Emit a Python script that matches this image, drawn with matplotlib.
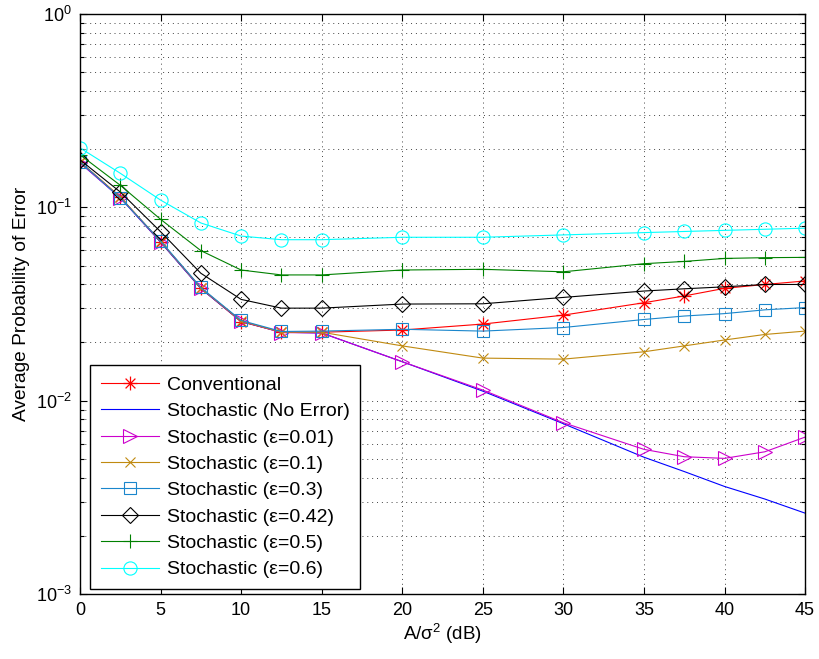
import matplotlib
matplotlib.use("Agg")
import matplotlib.pyplot as plt
import numpy as np
from matplotlib.path import Path
from matplotlib.ticker import LogLocator, NullFormatter, MultipleLocator

plt.rcParams['font.family'] = ['Liberation Sans', 'DejaVu Sans']
plt.rcParams['mathtext.default'] = 'regular'

# SNR points (dB)
snr = np.array([0, 2.5, 5, 7.5, 10, 12.5, 15, 20, 25, 30, 35, 37.5, 40, 42.5, 45])

conventional = [0.172, 0.113, 0.0664, 0.0381, 0.0256, 0.0226, 0.0226, 0.0232, 0.0249,
                0.0277, 0.0321, 0.0348, 0.0381, 0.0399, 0.0416]
no_error = [0.170, 0.112, 0.0660, 0.0380, 0.0257, 0.0226, 0.0224, 0.0159, 0.0112,
            0.0076, 0.0051, 0.0043, 0.0036, 0.0031, 0.00262]
eps_001 = [0.170, 0.112, 0.0665, 0.0382, 0.0258, 0.0225, 0.0224, 0.0159, 0.01135,
           0.00769, 0.00560, 0.00513, 0.00503, 0.00544, 0.00648]
eps_01 = [0.172, 0.113, 0.0666, 0.0383, 0.0258, 0.0226, 0.0226, 0.0192, 0.0166,
          0.0164, 0.0179, 0.0192, 0.0206, 0.0220, 0.0229]
eps_03 = [0.172, 0.112, 0.0670, 0.0385, 0.0260, 0.0228, 0.0229, 0.0234, 0.0229,
          0.0239, 0.0263, 0.0274, 0.0282, 0.0295, 0.0303]
eps_042 = [0.176, 0.120, 0.0748, 0.0456, 0.0334, 0.0301, 0.0301, 0.0316, 0.0317,
           0.0342, 0.0369, 0.0379, 0.0388, 0.0399, 0.0399]
eps_05 = [0.187, 0.130, 0.0867, 0.0597, 0.0474, 0.0447, 0.0447, 0.0474, 0.0478,
          0.0464, 0.0511, 0.0525, 0.0544, 0.0549, 0.0551]
eps_06 = [0.203, 0.150, 0.109, 0.083, 0.071, 0.068, 0.068, 0.070, 0.070,
          0.072, 0.074, 0.075, 0.076, 0.077, 0.078]

# matlab-style asterisk marker (+ and x on top of each other)
d = 0.7071
star = Path([(0, -1), (0, 1), (-1, 0), (1, 0), (-d, -d), (d, d), (-d, d), (d, -d)],
            [Path.MOVETO, Path.LINETO] * 4)

fig = plt.figure(figsize=(8.19, 6.59), dpi=100)
ax = fig.add_axes([0.0977, 0.0986, 0.8853, 0.8802])

lw = 0.8
ax.semilogy(snr, conventional, color='#ff0000', marker=star, ms=10, mew=0.9, mfc='none', lw=lw, label='Conventional')
ax.semilogy(snr, no_error, color='#0000ff', lw=lw, label='Stochastic (No Error)')
ax.semilogy(snr, eps_001, color='#cc00cc', marker='>', ms=10, mfc='none', mew=0.8, lw=lw, label='Stochastic (ε=0.01)')
ax.semilogy(snr, eps_01, color='#c08a10', marker='x', ms=7, mew=0.8, lw=lw, label='Stochastic (ε=0.1)')
ax.semilogy(snr, eps_03, color='#1a86cc', marker='s', ms=8, mfc='none', mew=0.8, lw=lw, label='Stochastic (ε=0.3)')
ax.semilogy(snr, eps_042, color='#000000', marker='D', ms=8, mfc='none', mew=0.8, lw=lw, label='Stochastic (ε=0.42)')
ax.semilogy(snr, eps_05, color='#008000', marker='+', ms=10, mew=0.8, lw=lw, label='Stochastic (ε=0.5)')
ax.semilogy(snr, eps_06, color='#00ffff', marker='o', ms=9.5, mfc='none', mew=0.8, lw=lw, label='Stochastic (ε=0.6)')

ax.set_xlim(0, 45)
ax.set_ylim(1e-3, 1)
ax.xaxis.set_major_locator(MultipleLocator(5))
ax.yaxis.set_major_locator(LogLocator(base=10, numticks=10))
ax.yaxis.set_minor_locator(LogLocator(base=10, subs=np.arange(2, 10), numticks=20))
ax.yaxis.set_minor_formatter(NullFormatter())

ax.grid(True, which='major', linestyle=(0, (1, 4)), color='#444444', linewidth=0.7)
ax.grid(True, which='minor', axis='y', linestyle=(0, (1, 4)), color='#444444', linewidth=0.7)
ax.tick_params(which='both', direction='in', top=True, right=True, labelsize=13, width=0.8)
ax.tick_params(which='major', length=5, pad=6)
ax.tick_params(which='minor', length=3)
for s in ax.spines.values():
    s.set_linewidth(1.0)

ax.set_xlabel('A/σ$^{2}$ (dB)', fontsize=13.5, labelpad=2)
ax.set_ylabel('Average Probability of Error', fontsize=13.8, labelpad=4)

leg = ax.legend(loc='lower left', bbox_to_anchor=(10 / 725, 5 / 580), fontsize=14,
                frameon=True, fancybox=False, edgecolor='black', framealpha=1,
                borderaxespad=0, handlelength=3.0, labelspacing=0.45,
                borderpad=0.55, handletextpad=0.4)
leg.get_frame().set_linewidth(1.0)

fig.savefig('out.png', dpi=100)
